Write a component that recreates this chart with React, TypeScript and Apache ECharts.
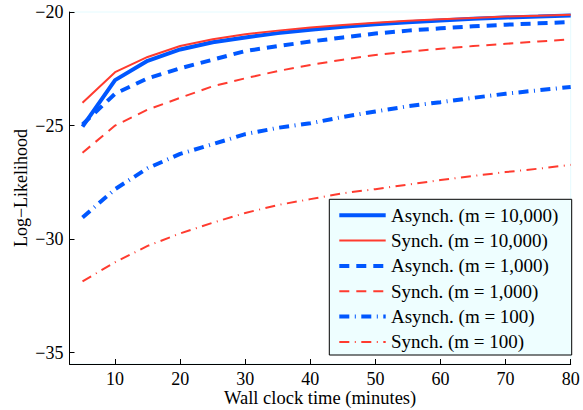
import React, { useEffect, useRef } from "react";
import * as echarts from "echarts";

const minutes = [5, 10, 15, 20, 25, 30, 35, 40, 45, 50, 55, 60, 65, 70, 75, 80];
const asynch10000 = [-25.05, -23.0, -22.15, -21.65, -21.33, -21.12, -20.93, -20.78, -20.65, -20.54, -20.45, -20.37, -20.3, -20.24, -20.2, -20.15];
const synch10000 = [-24.0, -22.65, -21.98, -21.5, -21.2, -20.98, -20.82, -20.68, -20.57, -20.47, -20.39, -20.32, -20.26, -20.2, -20.16, -20.12];
const asynch1000 = [-24.95, -23.6, -22.92, -22.48, -22.1, -21.72, -21.5, -21.3, -21.12, -20.95, -20.82, -20.72, -20.63, -20.56, -20.5, -20.44];
const synch1000 = [-26.2, -25.0, -24.3, -23.78, -23.27, -22.92, -22.6, -22.33, -22.1, -21.89, -21.74, -21.62, -21.5, -21.4, -21.3, -21.2];
const asynch100 = [-29.05, -27.8, -26.88, -26.25, -25.82, -25.38, -25.1, -24.9, -24.62, -24.38, -24.15, -23.97, -23.78, -23.6, -23.45, -23.3];
const synch100 = [-31.86, -31.02, -30.3, -29.75, -29.28, -28.85, -28.5, -28.24, -27.98, -27.8, -27.6, -27.4, -27.22, -27.05, -26.9, -26.73];

const seriesNames = [
  "Asynch. (m = 10,000)",
  "Synch. (m = 10,000)",
  "Asynch. (m = 1,000)",
  "Synch. (m = 1,000)",
  "Asynch. (m = 100)",
  "Synch. (m = 100)",
];
const xTicks = [10, 20, 30, 40, 50, 60, 70, 80];
const yTicks = [-35, -30, -25, -20];

const BLUE = "#0057ff";
const RED = "#ff3b2f";
const FONT = "'Liberation Serif', 'Times New Roman', serif";

export default function App() {
  const ref = useRef<HTMLDivElement>(null);
  useEffect(() => {
    if (!ref.current) return;
    const chart = echarts.init(ref.current, null, { renderer: "svg" });
    const pairs = (ys: number[]) => minutes.map((x, i) => [x, ys[i]]);
    const styles: { color: string; width: number; dash: any }[] = [
      { color: BLUE, width: 4, dash: "solid" },
      { color: RED, width: 2, dash: "solid" },
      { color: BLUE, width: 4, dash: [10, 7] },
      { color: RED, width: 2, dash: [10, 7] },
      { color: BLUE, width: 4, dash: [10, 5.5, 1, 5.5] },
      { color: RED, width: 2, dash: [10, 5.5, 1, 5.5] },
    ];
    const datasets = [asynch10000, synch10000, asynch1000, synch1000, asynch100, synch100];

    const lgX = 329.3;
    const lgY = 199.3;
    const lgW = 242.4;
    const lgH = 155.7;
    const row0 = 215.2;
    const rowStep = 25.35;
    const legendEls: any[] = [
      {
        type: "rect",
        shape: { x: lgX, y: lgY, width: lgW, height: lgH },
        style: { fill: "#eefeff", stroke: "#000", lineWidth: 1 },
        z: 100,
      },
    ];
    seriesNames.forEach((name, i) => {
      const cy = row0 + i * rowStep;
      legendEls.push({
        type: "line",
        shape: { x1: 339.3, y1: cy, x2: 385.7, y2: cy },
        style: {
          stroke: styles[i].color,
          lineWidth: styles[i].width,
          lineDash: styles[i].dash === "solid" ? null : styles[i].dash,
        },
        z: 101,
      });
      legendEls.push({
        type: "text",
        x: 391,
        y: cy,
        style: {
          text: name,
          fill: "#000",
          font: `19px ${FONT}`,
          textVerticalAlign: "middle",
          verticalAlign: "middle",
          textAlign: "left",
        },
        z: 101,
      });
    });

    chart.setOption({
      animation: false,
      backgroundColor: "#ffffff",
      textStyle: { fontFamily: FONT },
      grid: {
        left: 69.5,
        right: 12.3,
        top: 12,
        bottom: 46,
        outerBoundsMode: "none",
        containLabel: false,
        show: true,
        borderColor: "#e4fbff",
        borderWidth: 1,
        backgroundColor: "transparent",
      },
      graphic: legendEls,
      xAxis: {
        type: "value",
        min: 3,
        max: 80,
        name: "Wall clock time (minutes)",
        nameLocation: "middle",
        nameGap: 24.5,
        nameMoveOverlap: false,
        nameTextStyle: { fontFamily: FONT, fontSize: 18.5, color: "#000", lineHeight: 18 },
        axisLine: { show: true, lineStyle: { color: "#000", width: 1 } },
        axisTick: { show: true, inside: true, length: 5, customValues: xTicks, lineStyle: { color: "#000" } },
        axisLabel: { customValues: xTicks, fontFamily: FONT, fontSize: 18, lineHeight: 18, color: "#000", margin: 6 },
        splitLine: { show: false },
      },
      yAxis: {
        type: "value",
        min: -35.5,
        max: -20,
        name: "Log\u2212Likelihood",
        nameLocation: "middle",
        nameGap: 40,
        nameMoveOverlap: false,
        nameRotate: 90,
        nameTextStyle: { fontFamily: FONT, fontSize: 18, color: "#000" },
        axisLine: { show: true, lineStyle: { color: "#000", width: 1 } },
        axisTick: { show: true, inside: true, length: 5, customValues: yTicks, lineStyle: { color: "#000" } },
        axisLabel: {
          customValues: yTicks,
          fontFamily: FONT,
          fontSize: 18,
          color: "#000",
          margin: 6,
          formatter: (v: number) => (v < 0 ? "\u2212" + Math.abs(v) : String(v)),
        },
        splitLine: { show: false },
      },
      series: datasets.map((ys, i) => ({
        name: seriesNames[i],
        type: "line",
        data: pairs(ys),
        symbol: "none",
        showSymbol: false,
        color: styles[i].color,
        lineStyle: { color: styles[i].color, width: styles[i].width, type: styles[i].dash },
        z: 2 + i,
      })),
    });
    return () => chart.dispose();
  }, []);
  return <div ref={ref} style={{ width: 583, height: 410, position: "absolute", left: 0, top: 0 }} />;
}
